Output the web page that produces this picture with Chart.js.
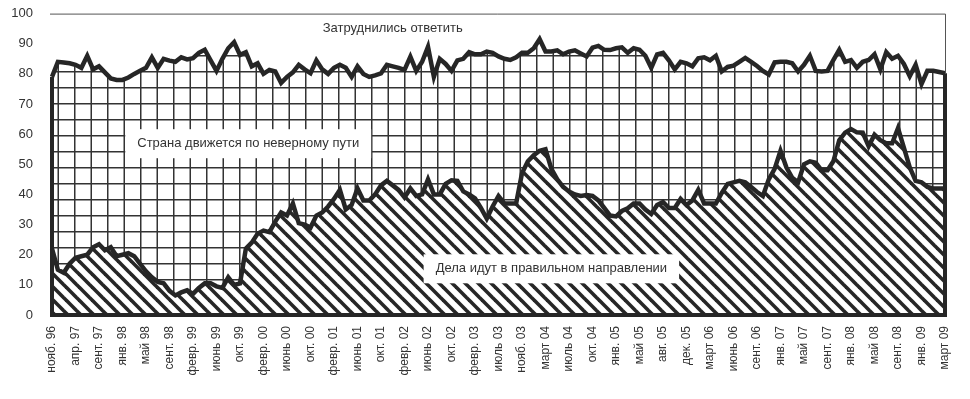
<!DOCTYPE html>
<html>
<head>
<meta charset="utf-8">
<script src="https://cdn.jsdelivr.net/npm/chart.js"></script>
<style>
  html, body { margin: 0; padding: 0; background: #fff; }
  #wrap { width: 970px; height: 399px; position: relative; }
</style>
</head>
<body>
<div id="wrap"><canvas id="chart"></canvas></div>
<script>
// подписи оси X (каждая 4-я точка опроса)
const tickLabels = ['нояб. 96','апр. 97','сент. 97','янв. 98','май 98','сент. 98','февр. 99','июнь 99','окт. 99',
  'февр. 00','июнь 00','окт. 00','февр. 01','июнь 01','окт. 01','февр. 02','июнь 02','окт. 02','февр. 03',
  'июль 03','нояб. 03','март 04','июль 04','окт. 04','янв. 05','май 05','авг. 05','дек. 05','март 06',
  'июнь 06','сент. 06','янв. 07','май 07','сент. 07','янв. 08','май 08','сент. 08','янв. 09','март 09'];

// "Дела идут в правильном направлении", %
const rightDirection = [
  22, 15, 14, 17, 19, 19.5, 20, 22.5, 23.5, 21.5, 22.5, 19.5, 20, 20.5, 19.5, 17,
  14.5, 12.5, 11, 10.5, 8, 6.5, 7.5, 8.2, 7, 9, 10.5, 10.5, 9.5, 9, 12.5, 10,
  10.5, 22, 24, 27, 28, 27.5, 31, 34, 33, 37, 30.5, 30, 29, 33, 34, 36,
  38.5, 41.5, 35, 36.5, 42, 38, 38, 40, 43, 44.5, 43, 41.5, 39, 42, 39.5, 40,
  45, 40, 40, 43.5, 44.7, 44.5, 41, 40, 38.7, 35.5, 32, 36, 39.5, 37, 37, 37,
  47, 51, 53, 54.5, 55, 48.5, 45, 42.5, 41, 40, 39.5, 39.8, 39.5, 38, 35.5, 33,
  32.7, 34.5, 35.4, 37, 37, 35, 33.5, 36.5, 37.5, 35.5, 35.5, 38.5, 36.5, 38, 41.5, 37,
  37, 37, 40.5, 43.5, 44, 44.5, 44, 42.5, 40.8, 39.5, 45, 48.5, 54.5, 49, 45.5, 44,
  50, 51, 50.5, 48, 48, 51, 58, 60.5, 61.7, 60.6, 60.5, 56, 59.8, 58, 57, 57,
  62, 55.5, 49, 44.5, 44, 42.5, 42, 42, 42
];

// верхняя граница полосы "Страна движется по неверному пути" (накопленно), %
const wrongPathTop = [
  79, 84, 83.8, 83.5, 83, 82, 86, 81.5, 82.5, 80.5, 78.5, 78, 78, 78.8, 80, 81,
  82, 85.5, 82, 85, 84.4, 84, 85.5, 84.8, 85.2, 87, 88, 84.5, 81, 85, 88.5, 90.5,
  86.3, 87.2, 82.5, 83.5, 80, 81.3, 80.8, 77, 79, 80.5, 83, 81.5, 80.2, 84.5, 81.5, 80,
  82, 83, 82, 79, 82.5, 80, 79, 79.5, 80.2, 83, 82.5, 82, 81.3, 85.7, 81, 84,
  89, 79, 85, 83.3, 81, 84.5, 85, 87.2, 86.5, 86.5, 87.4, 87, 85.8, 85, 84.6, 85.5,
  87, 87, 88.5, 91.5, 87.4, 87.4, 87.8, 86.5, 87.4, 87.8, 86.8, 85.8, 88.7, 89.3, 88, 87.9,
  88.5, 88.8, 87, 88.5, 88, 86, 82, 86.5, 87, 84.5, 81.5, 84, 83.5, 82.5, 85.2, 85.5,
  84.5, 86, 80.8, 82.3, 82.7, 84, 85.3, 84, 82.6, 81, 79.8, 83.8, 84, 84, 83.5, 80.8,
  83, 86, 81, 80.8, 81, 84.6, 88, 84, 84.6, 82, 84, 84.6, 86.5, 81.5, 87.2, 85,
  86, 83.3, 79.2, 83, 76.6, 81, 81, 80.6, 80.2
];

const areaNames = ['Затруднились ответить', 'Страна движется по неверному пути', 'Дела идут в правильном направлении'];

// категории: подпись на каждой 4-й точке
const labels = rightDirection.map((v, i) => (i % 4 === 0 ? tickLabels[i / 4] : ''));

const INK = '#262626';
const FONT = "'Liberation Sans', Arial, sans-serif";

//------- узоры заливки ---------------
function makeGrid() {
  const c = document.createElement('canvas');
  c.width = 33; c.height = 32;
  const g = c.getContext('2d');
  g.fillStyle = '#fff';
  g.fillRect(0, 0, 33, 32);
  g.fillStyle = '#333';
  g.fillRect(8, 0, 1.5, 32);
  g.fillRect(24.5, 0, 1.5, 32);
  g.fillRect(0, 7, 33, 1.5);
  g.fillRect(0, 23, 33, 1.5);
  return g.createPattern(c, 'repeat');
}

function makeHatch() {
  const s = 13;
  const c = document.createElement('canvas');
  c.width = s; c.height = s;
  const g = c.getContext('2d');
  g.fillStyle = '#fff';
  g.fillRect(0, 0, s, s);
  g.strokeStyle = INK;
  g.lineWidth = 3.6;
  [-s, 0, s].forEach(off => {
    g.beginPath();
    g.moveTo(-2, -2 + off);
    g.lineTo(s + 2, s + 2 + off);
    g.stroke();
  });
  return g.createPattern(c, 'repeat');
}

//------- рамка, края и подписи областей ---------------
const decorPlugin = {
  id: 'decor',
  afterDatasetsDraw(chart) {
    const { ctx, chartArea: a, scales: { x, y } } = chart;
    const last = rightDirection.length - 1;
    ctx.save();
    // тонкая рамка сверху и справа
    ctx.strokeStyle = '#555';
    ctx.lineWidth = 1;
    ctx.beginPath();
    ctx.moveTo(a.left - 2, a.top + 0.5);
    ctx.lineTo(a.right + 0.5, a.top + 0.5);
    ctx.lineTo(a.right + 0.5, y.getPixelForValue(wrongPathTop[last]));
    ctx.stroke();
    // толстые края и основание
    ctx.strokeStyle = INK;
    ctx.lineWidth = 4;
    ctx.lineJoin = 'miter';
    ctx.beginPath();
    ctx.moveTo(x.getPixelForValue(0), y.getPixelForValue(wrongPathTop[0]));
    ctx.lineTo(x.getPixelForValue(0), y.getPixelForValue(0));
    ctx.lineTo(x.getPixelForValue(last), y.getPixelForValue(0));
    ctx.lineTo(x.getPixelForValue(last), y.getPixelForValue(wrongPathTop[last]));
    ctx.stroke();
    // подписи областей на белой подложке
    ctx.font = '13px ' + FONT;
    ctx.textAlign = 'center';
    ctx.textBaseline = 'middle';
    const spots = [[58, 95], [33.4, 57], [85, 15.5]];
    areaNames.forEach((t, k) => {
      const px = x.getPixelForValue(spots[k][0]);
      const py = y.getPixelForValue(spots[k][1]);
      const w = ctx.measureText(t).width;
      if (k > 0) {
        ctx.fillStyle = '#fff';
        ctx.fillRect(px - w / 2 - 12, py - 14, w + 24, 29);
      }
      ctx.fillStyle = '#333';
      ctx.fillText(t, px, py);
    });
    ctx.restore();
  }
};

const ctx = document.getElementById('chart').getContext('2d');
new Chart(ctx, {
  type: 'line',
  data: {
    labels: labels,
    datasets: [
      {
        label: areaNames[2],
        data: rightDirection,
        fill: 'origin',
        backgroundColor: makeHatch(),
        borderColor: INK,
        borderWidth: 4.5,
        borderJoinStyle: 'miter',
        pointRadius: 0,
        tension: 0
      },
      {
        label: areaNames[1],
        data: wrongPathTop,
        fill: '-1',
        backgroundColor: makeGrid(),
        borderColor: INK,
        borderWidth: 4.5,
        borderJoinStyle: 'miter',
        pointRadius: 0,
        tension: 0
      }
    ]
  },
  options: {
    responsive: true,
    maintainAspectRatio: false,
    animation: false,
    layout: { padding: { left: 0, right: 25, top: 1, bottom: 0 } },
    plugins: { legend: { display: false }, tooltip: { enabled: false } },
    scales: {
      x: {
        type: 'category',
        offset: false,
        grid: { display: false },
        border: { display: false },
        ticks: {
          autoSkip: false,
          maxRotation: 90,
          minRotation: 90,
          padding: 3,
          color: '#333',
          font: { family: FONT, size: 12 },
          callback: (v, i) => labels[i] || null
        },
        afterFit: (axis) => { axis.height = 84; }
      },
      y: {
        min: 0,
        max: 100,
        grid: { display: false },
        border: { display: false },
        ticks: {
          stepSize: 10,
          padding: 11,
          color: '#333',
          font: { family: FONT, size: 13, lineHeight: 0.4 }
        },
        afterFit: (axis) => { axis.width = 52; }
      }
    }
  },
  plugins: [decorPlugin]
});
</script>
</body>
</html>
